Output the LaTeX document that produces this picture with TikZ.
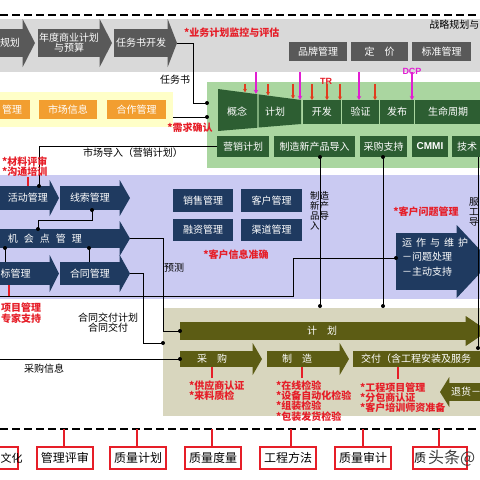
\documentclass[tikz,border=0pt]{standalone}
\usepackage{fontspec}
\setmainfont{Noto Sans CJK SC}
\newfontfamily\lsans{Liberation Sans}
\usetikzlibrary{calc,arrows.meta}
\definecolor{bandgray}{RGB}{217,217,217}
\definecolor{dgray}{RGB}{89,89,89}
\definecolor{lgreen}{RGB}{170,214,160}
\definecolor{dgreen}{RGB}{45,94,50}
\definecolor{lyellow}{RGB}{255,255,200}
\definecolor{orng}{RGB}{242,158,48}
\definecolor{lav}{RGB}{202,202,242}
\definecolor{navy}{RGB}{31,58,96}
\definecolor{olivebg}{RGB}{216,214,190}
\definecolor{olivedk}{RGB}{92,92,20}
\definecolor{myred}{RGB}{230,30,40}
\definecolor{tred}{RGB}{225,60,30}
\definecolor{mag}{RGB}{225,30,210}
\newcommand\fsz[1]{\fontsize{#1}{#1}\selectfont}
\tikzset{
 abody/.style={anchor=north west, inner sep=0pt, outer sep=0pt, text=white, font=\fsz{10}, align=center},
 box/.style={anchor=north west, inner sep=0pt, outer sep=0pt, text=white, font=\fsz{10}, align=center},
 wtxt/.style={text=white, font=\fsz{10}, inner sep=0pt, align=center},
 btxt/.style={text=black, font=\fsz{10}, inner sep=0pt, align=center},
 redtxt/.style={text=myred, font=\bfseries\fsz{10}, inner sep=0pt, align=left},
 conn/.style={draw=black, line width=0.8pt},
 redln/.style={draw=myred, line width=1.2pt},
 tarr/.style={draw=tred, line width=1.3pt, -{Stealth[length=3.5pt,width=4pt]}},
 marr/.style={draw=mag, line width=1.6pt, -{Stealth[length=4pt,width=4.5pt]}},
 dashln/.style={draw=black, line width=1.4pt, dash pattern=on 8pt off 4pt},
 qbox/.style={anchor=north west, inner sep=0pt, outer sep=0pt, fill=white, draw=myred, line width=1.3pt, text=black, font=\fsz{12}, minimum height=22pt},
}
% name, color, x, ytop, width, height, head extend, head length, text
\newcommand\harrow[9]{%
 \node[abody, fill=#2, minimum width=#5pt, minimum height=#6pt] (#1) at (#3,#4) {#9};
 \fill[#2] ([xshift=-0.3pt]#1.north east) -- ++(0,-#7) -- ([xshift=#8pt]#1.east) -- ([xshift=-0.3pt,yshift=-#7pt]#1.south east) -- ([xshift=-0.3pt]#1.south east) -- cycle;}
% name, color, x1, y1, x2, y2, text
\newcommand\rbox[7]{\node[box, fill=#2, minimum width={((#5)-(#3))*1pt}, minimum height={((#6)-(#4))*1pt}] (#1) at (#3,#4) {#7};}
\newcommand\qb[4]{\node[qbox, minimum width={((#3)-(#2))*1pt}] (#1) at (#2,447) {#4};}
\begin{document}
\begin{tikzpicture}[x=1pt,y=-1pt]
\useasboundingbox (0,0) rectangle (480,480);
\clip (0,0) rectangle (480,480);
\fill[white] (0,0) rectangle (480,480);
% ---------- top band
\draw[dashln] (0,15) -- (480,15);
\fill[bandgray] (0,19) rectangle (480,72);
\harrow{a1}{dgray}{-20}{29}{43}{28}{10}{12}{}
\node[wtxt] (a1t) at (10,43) {规划};
\harrow{a2}{dgray}{38}{29}{62}{28}{10}{12}{\fontsize{10}{11}\selectfont 年度商业计划\\与预算}
\harrow{a3}{dgray}{114}{29}{54}{28}{10}{9}{任务书开发}
\node[redtxt, anchor=west] (kpi) at (184,33) {*业务计划监控与评估};
\node[btxt, anchor=east] (zl) at (479.5,25) {战略规划与};
\rbox{pp}{dgray}{289}{42}{347}{61}{品牌管理}
\rbox{dj}{dgray}{351}{42}{408}{61}{定　价}
\rbox{bz}{dgray}{412}{42}{471}{61}{标准管理}
\node[btxt] (rws) at (175,80) {任务书};
% ---------- yellow
\fill[lyellow] (0,92) rectangle (173,127);
\rbox{ob1}{orng}{-20}{100}{30}{119}{}
\node[wtxt] (ob1t) at (12,109.5) {管理};
\rbox{ob2}{orng}{39}{100}{97}{119}{市场信息}
\rbox{ob3}{orng}{107}{100}{166}{119}{合作管理}
% ---------- green
\fill[lgreen] (207,82) rectangle (480,168);
\node[redtxt] (xq) at (190,128) {*需求确认};
\fill[dgreen] (218,89) -- (257.3,94.2) -- (257.3,127.7) -- (218,131) -- cycle;
\fill[dgreen] (258.7,94.4) -- (301,100) -- (301,124) -- (258.7,127.5) -- cycle;
\node[wtxt] (gn1) at (237,112) {概念};
\node[wtxt] (gn2) at (275,112) {计划};
\rbox{kf}{dgreen}{302.5}{100}{341}{124}{开发}
\rbox{yz}{dgreen}{342.2}{100}{379}{124}{验证}
\rbox{fb}{dgreen}{380.2}{100}{414}{124}{发布}
\rbox{sm}{dgreen}{415.2}{100}{500}{124}{}
\node[wtxt] (smt) at (448,112) {生命周期};
\foreach \xx/\yy in {245/92.3,268/95.4,293/98.7,312/100,327/100,340/100,375/100}
  \draw[tarr] (\xx,84) -- (\xx,\yy);
\foreach \xx/\yy in {256/93.8,300/99.8,359/100,412/100}
  \draw[marr] (\xx,72) -- (\xx,\yy);
\node[text=myred, font=\lsans\bfseries\fsz{9}, inner sep=0pt] (tr) at (326,81) {TR};
\node[text=mag, font=\lsans\bfseries\fsz{9}, inner sep=0pt] (dcp) at (412,71.5) {DCP};
\rbox{yx}{dgreen}{217}{136}{269}{157}{营销计划}
\rbox{zz}{dgreen}{274}{136}{355}{157}{制造新产品导入}
\rbox{cg}{dgreen}{360}{136}{407}{157}{采购支持}
\rbox{cm}{dgreen}{412}{136}{448}{157}{\lsans\bfseries CMMI}
\rbox{js}{dgreen}{452}{136}{500}{157}{}
\node[wtxt, anchor=west] (jst) at (457,146.5) {技术};
% connectors top
\coordinate (kd1) at (207,103);
\coordinate (kd2) at (207,117);
\coordinate (ye) at (173,117);
\draw[conn] ([xshift=9pt]a3.east) -- (193,43) -- (193,103) -- (kd1);
\draw[conn] (ye) -- (kd2);
\fill (kd1) circle (2pt) (kd2) circle (2pt);
% ---------- lavender
\fill[lav] (0,175) rectangle (480,299);
\coordinate (yxl) at (217,146.5);
\coordinate (shd) at (39,186);
\draw[conn] (yxl) -- (39,146.5) -- (shd);
\node[btxt] (scdr) at (133,153) {市场导入（营销计划）};
\node[redtxt, anchor=north west, font=\bfseries\fontsize{10}{10}\selectfont] (clps) at (2,157) {*材料评审\\*沟通培训};
\harrow{sh}{navy}{-20}{186}{70}{24}{6}{9}{}
\node[wtxt] (sht) at (28,198) {活动管理};
\harrow{xs}{navy}{60}{186}{60}{24}{6}{10}{线索管理}
\harrow{jh}{navy}{-20}{229}{140}{19}{8}{10}{}
\node[wtxt] (jht) at (45,238.5) {机\hspace{6pt}会\hspace{6pt}点\hspace{6pt}管\hspace{6pt}理};
\harrow{tb}{navy}{-20}{262}{70}{23}{7}{9}{}
\node[wtxt, anchor=west] (tbt) at (0.5,273.5) {标管理};
\harrow{ht}{navy}{60}{262}{60}{23}{7}{10}{合同管理}
\fill (shd) circle (2pt);
\draw[redln] (28,177) -- (28,186);
\rbox{xsg}{navy}{173}{189}{233}{212}{销售管理}
\rbox{khg}{navy}{241}{189}{302}{212}{客户管理}
\rbox{rzg}{navy}{173}{219}{233}{241}{融资管理}
\rbox{qdg}{navy}{241}{219}{302}{241}{渠道管理}
\node[redtxt] (khx) at (236,255) {*客户信息准确};
\node[btxt] (yc) at (174,268) {预测};
\node[btxt, anchor=north west, align=left, font=\fontsize{9.5}{10}\selectfont] (zzv) at (310,191) {制造\\新产\\品导\\入};
\node[btxt, anchor=north west, align=left, font=\fontsize{9.5}{10}\selectfont] (fwv) at (469,198) {服\\工\\导};
\node[redtxt] (khw) at (426,212) {*客户问题管理};
\harrow{yw}{navy}{396}{233}{61}{57}{8}{34}{}
\node[wtxt, anchor=west, align=left, font=\fontsize{10}{14.5}\selectfont] (ywt) at (402,257) {运\hspace{4pt}作\hspace{4pt}与\hspace{4pt}维\hspace{4pt}护\\－问题处理\\－主动支持};
% lavender connectors
\draw[conn] (92,210) -- (92,220) -- (38,220) -- (38,229);
\fill (92,210) circle (2pt) (38,229) circle (2pt);
\draw[conn] (5,248) -- (5,262);
\fill (5,248) circle (2pt);
\draw[conn] (89,248) -- (89,262);
\fill (89,248) circle (2pt);
\draw[redln] (9,285) -- (9,296);
% ---------- olive
\fill[olivebg] (163,308) rectangle (480,416);
\harrow{jhb}{olivedk}{180}{322}{286}{18}{6}{22}{}
\node[wtxt] (jhbt) at (322,331) {计　划};
\harrow{cgb}{olivedk}{180}{351}{73}{16}{8}{9}{}
\node[wtxt] (cgbt) at (212,359) {采　购};
\harrow{zzb}{olivedk}{267}{351}{73}{16}{8}{9}{}
\node[wtxt] (zzbt) at (297,359) {制　造};
\harrow{jf}{olivedk}{353}{351}{150}{16}{8}{9}{}
\node[wtxt, anchor=west] (jft) at (361,359) {交付（含工程安装及服务};
\rbox{th}{olivedk}{449}{383}{500}{401}{}
\fill[olivedk] (440,392) -- (449.3,377) -- (449.3,407) -- cycle;
\node[wtxt, anchor=west] (tht) at (451,392) {退货－};
\draw[redln] (212,367) -- (212,378);
\draw[redln] (302,367) -- (302,378);
\draw[redln] (398,367) -- (398,379);
\node[redtxt, anchor=north west, font=\bfseries\fontsize{10}{10}\selectfont] (gys) at (189,381) {*供应商认证\\*来料质检};
\node[redtxt, anchor=north west, font=\bfseries\fontsize{10}{9.7}\selectfont] (zxj) at (276,381) {*在线检验\\*设备自动化检验\\*组装检验\\*包装发货检验};
\node[redtxt, anchor=north west, font=\bfseries\fontsize{10}{10}\selectfont] (gcx) at (360,383) {*工程项目管理\\*分包商认证\\*客户培训师资准备};
% cross connectors
\coordinate (jhin) at (180,331);
\coordinate (olv) at (163,343);
\coordinate (cgin) at (180,359);
\coordinate (ywin) at (396,258);
\draw[conn] ([xshift=10pt]jh.east) -- (163,238.5) -- (163,331) -- (jhin);
\draw[conn] ([xshift=10pt]ht.east) -- (143,273.5) -- (143,343) -- (olv);
\draw[conn] (0,359) -- (cgin);
\draw[conn] (ywin) -- (293,258) -- (293,296) -- (0,296);
\draw[conn] (zz.south -| 320,0) -- (320,306);
\draw[conn] (cg.south -| 383,0) -- (383,306);
\draw[conn] (478,157) -- (478,348);
\fill (jhin) circle (2pt) (olv) circle (2pt) (cgin) circle (2pt) (ywin) circle (2pt);
\fill (320,157) circle (2pt) (320,306) circle (2pt) (383,157) circle (2pt) (383,306) circle (2pt) (478,348) circle (2pt);
\node[btxt] (htj) at (108,322.5) {\fontsize{10}{11}\selectfont 合同交付计划\\合同交付};
\node[redtxt, anchor=north west, font=\bfseries\fontsize{10}{11.5}\selectfont] (xmg) at (1,302.5) {项目管理\\专家支持};
\node[btxt] (cgx) at (44,369) {采购信息};
% ---------- bottom
\draw[dashln] (0,429) -- (480,429);
\foreach \xx in {64,137,212,291,363,439} \draw[redln] (\xx,429) -- (\xx,447);
\qb{q0}{-30}{18}{}
\node[btxt, anchor=west, font=\fsz{11}] (q0t) at (0.5,458) {文化};
\qb{q1}{37}{93}{管理评审}
\qb{q2}{110}{166}{质量计划}
\qb{q3}{185}{241}{质量度量}
\qb{q4}{260}{316}{工程方法}
\qb{q5}{335}{391}{质量审计}
\qb{q6}{413}{467}{}
\node[btxt, anchor=west, font=\fsz{12}] (q6t) at (414,458) {质};
\node[text=black!75, font=\fsz{16}, anchor=west, inner sep=0pt] (wm) at (428,458) {头条@};
\end{tikzpicture}
\end{document}
